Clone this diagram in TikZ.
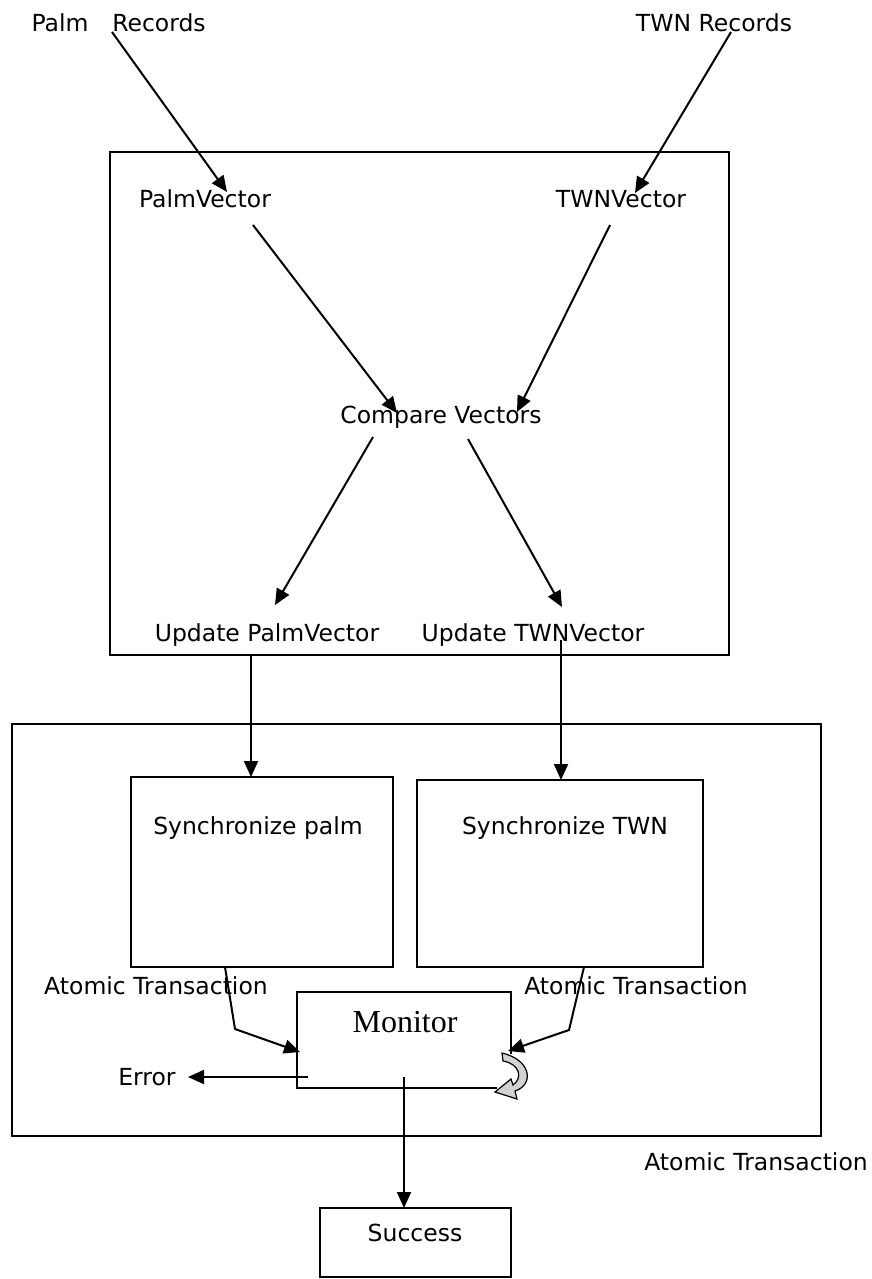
\documentclass[tikz,border=0pt]{standalone}
\usepackage{fontspec}
\setmainfont{DejaVu Sans}
\newfontfamily\timesf{Liberation Serif}
\usetikzlibrary{arrows.meta}
\begin{document}
\begin{tikzpicture}[x=1pt,y=-1pt,
  lbl/.style={font=\fontsize{23.5}{26}\selectfont, inner sep=0pt},
  box/.style={draw, line width=2pt},
  conn/.style={line width=2pt, -{Triangle[length=16pt,width=14pt]}},
  plain/.style={line width=2pt}]
\useasboundingbox (0,0) rectangle (871,1279);

% boxes
\draw[box] (110,152) rectangle (729,655);
\draw[box] (12,724) rectangle (821,1136);
\draw[box] (131,777) rectangle (393,967);
\draw[box] (417,780) rectangle (703,967);
\draw[box] (297,992) rectangle (511,1088);
\draw[box] (320,1208) rectangle (511,1277);

% labels
\node[lbl] (palm) at (60,23) {Palm};
\node[lbl] (palmrec) at (159,23) {Records};
\node[lbl] (twnrec) at (714,23) {TWN Records};
\node[lbl] (pv) at (205,199) {PalmVector};
\node[lbl] (tv) at (621,199) {TWNVector};
\node[lbl] (cmp) at (441,417) {Compare Vectors};
\node[lbl] (upv) at (267,635) {Update PalmVector};
\node[lbl] (utv) at (533,635) {Update TWNVector};
\node[lbl] (sp) at (258,828) {Synchronize palm};
\node[lbl] (st) at (565,828) {Synchronize TWN};
\node[lbl] (at1) at (156,986) {Atomic Transaction};
\node[lbl] (at2) at (636,986) {Atomic Transaction};
\node[lbl] (at3) at (756,1162) {Atomic Transaction};
\node[inner sep=0pt, font=\timesf\fontsize{32}{34}\selectfont] (mon) at (405,1022) {Monitor};
\node[lbl] (err) at (147,1077) {Error};
\node[lbl] (succ) at (415,1233) {Success};

% connector points
\coordinate (a1) at (112,32);   \coordinate (a2) at (227,192);
\coordinate (b1) at (731,32);   \coordinate (b2) at (635,193);
\coordinate (c1) at (253,225);  \coordinate (c2) at (397,413);
\coordinate (d1) at (610,225);  \coordinate (d2) at (517,412);
\coordinate (e1) at (373,437);  \coordinate (e2) at (275,605);
\coordinate (f1) at (468,439);  \coordinate (f2) at (562,607);
\coordinate (g1) at (251,656);  \coordinate (g2) at (251,777);
\coordinate (h1) at (561,640);  \coordinate (h2) at (561,780);
\coordinate (i1) at (225,967);  \coordinate (i2) at (235,1029); \coordinate (i3) at (300,1052);
\coordinate (j1) at (584,967);  \coordinate (j2) at (569,1030); \coordinate (j3) at (508,1051);
\coordinate (k1) at (308,1077); \coordinate (k2) at (188,1077);
\coordinate (l1) at (404,1077); \coordinate (l2) at (404,1208);

\draw[conn] (a1) -- (a2);
\draw[conn] (b1) -- (b2);
\draw[conn] (c1) -- (c2);
\draw[conn] (d1) -- (d2);
\draw[conn] (e1) -- (e2);
\draw[conn] (f1) -- (f2);
\draw[conn] (g1) -- (g2);
\draw[conn] (h1) -- (h2);
\draw[conn] (i1) -- (i2) -- (i3);
\draw[conn] (j1) -- (j2) -- (j3);
\draw[conn] (k1) -- (k2);
\draw[conn] (l1) -- (l2);

% curved block arrow
\fill[white] (496,1054) rectangle (530,1100);
\draw[line width=1.2pt, fill=gray!35]
  (502,1053) .. controls (532,1060) and (534,1085) .. (515,1091)
  -- (517,1099) -- (495,1092) -- (511,1079) -- (513,1085)
  .. controls (523,1078) and (520,1064) .. (503,1061) -- cycle;
\draw[plain] (494,1088) -- (497,1088);
\end{tikzpicture}
\end{document}
